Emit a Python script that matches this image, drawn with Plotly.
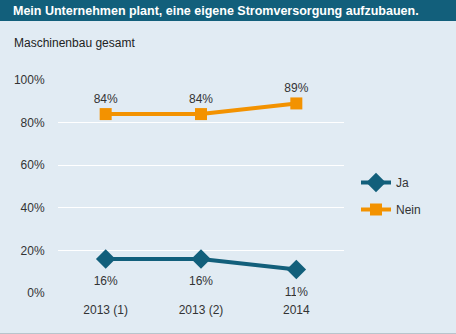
import plotly.graph_objects as go

categories = ["2013 (1)", "2013 (2)", "2014"]
ja = [16, 16, 11]
nein = [84, 84, 89]
tick_vals = [0, 20, 40, 60, 80, 100]
tick_text = ["0%", "20%", "40%", "60%", "80%", "100%"]

W, H = 456, 334
L, R, T, B = 58, 112, 80, 41
PW, PH = W - L - R, H - T - B

def px_x(px):
    return (px - L) / PW

def px_y(py):
    return 1 - (py - T) / PH

BG = "#e1ebf3"
TEAL = "#125f7b"
ORANGE = "#f39200"
FONT = "Liberation Sans, Arial, sans-serif"

fig = go.Figure()
fig.add_trace(go.Scatter(
    x=categories, y=ja, name="Ja", mode="lines+markers",
    line=dict(color=TEAL, width=4),
    marker=dict(symbol="diamond", size=15, color=TEAL),
    legendgroup="a",
))
# value labels for Ja (placed a bit further below the markers)
fig.add_trace(go.Scatter(
    x=categories, y=ja, mode="markers+text", showlegend=False, hoverinfo="skip",
    marker=dict(size=26, opacity=0),
    text=[f"{v}%" for v in ja], textposition="bottom center",
    textfont=dict(size=12, color="#333333", family=FONT),
    cliponaxis=False,
))
fig.add_trace(go.Scatter(
    x=categories, y=nein, name="Nein", mode="lines+markers+text",
    line=dict(color=ORANGE, width=4),
    marker=dict(symbol="square", size=12, color=ORANGE),
    text=[f"{v}%" for v in nein], textposition="top center",
    textfont=dict(size=12, color="#333333", family=FONT),
    legendgroup="b", cliponaxis=False,
))

fig.update_layout(
    width=W, height=H,
    margin=dict(l=L, r=R, t=T, b=B),
    paper_bgcolor=BG, plot_bgcolor=BG,
    font=dict(family=FONT, size=12, color="#333333"),
    xaxis=dict(showgrid=False, zeroline=False, showline=False,
               tickfont=dict(size=12, color="#333333"), range=[-0.5, 2.5],
               ticks="outside", ticklen=6, tickcolor=BG),
    yaxis=dict(range=[0, 100], tickvals=tick_vals, ticktext=tick_text,
               showgrid=True, gridcolor="white", gridwidth=1,
               zeroline=False, showline=False,
               ticks="outside", ticklen=10, tickcolor=BG,
               tickfont=dict(size=12, color="#333333")),
    legend=dict(x=px_x(356), y=px_y(168), xanchor="left", yanchor="top",
                bgcolor="rgba(0,0,0,0)", tracegroupgap=8,
                font=dict(size=12, color="#333333", family=FONT),
                itemwidth=30),
    showlegend=True,
    shapes=[
        dict(type="rect", xref="paper", yref="paper",
             x0=px_x(0), x1=px_x(W), y0=px_y(21), y1=px_y(0),
             fillcolor=TEAL, line=dict(width=0), layer="below"),
        dict(type="line", xref="paper", yref="paper",
             x0=px_x(0), x1=px_x(W), y0=px_y(333.5), y1=px_y(333.5),
             line=dict(color="#b8c4cc", width=1)),
    ],
    annotations=[
        dict(text="<b>Mein Unternehmen plant, eine eigene Stromversorgung aufzubauen.</b>",
             xref="paper", yref="paper", x=px_x(11), y=px_y(10.5),
             xanchor="left", yanchor="middle", showarrow=False,
             font=dict(size=12.5, color="white", family=FONT)),
        dict(text="Maschinenbau gesamt",
             xref="paper", yref="paper", x=px_x(12), y=px_y(43),
             xanchor="left", yanchor="middle", showarrow=False,
             font=dict(size=12, color="#222222", family=FONT)),
    ],
)

fig.write_html("out.html")
